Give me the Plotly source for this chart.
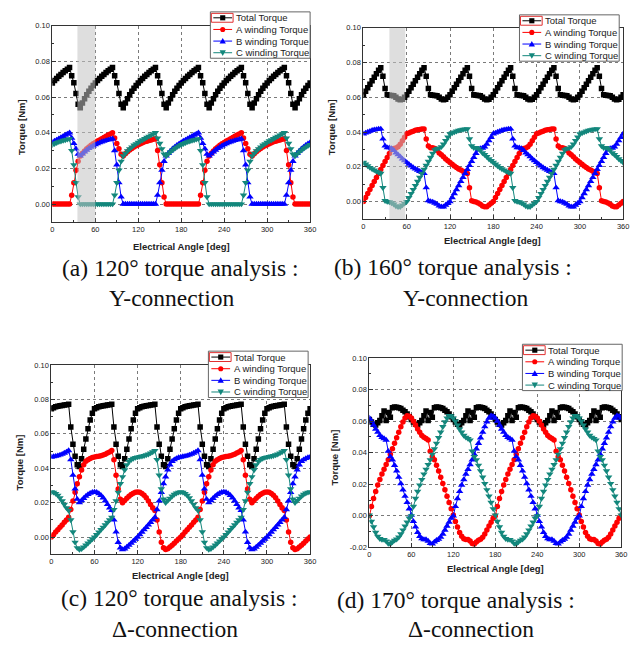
import plotly.graph_objects as go

W, H = 642, 654

# ---------------- data ----------------
angle_deg = list(range(0, 361, 3))

x_tick_vals = [0, 60, 120, 180, 240, 300, 360]
x_tick_text = ["0", "60", "120", "180", "240", "300", "360"]
y_tick_vals_pos = [0.00, 0.02, 0.04, 0.06, 0.08, 0.10]
y_tick_text_pos = ["0.00", "0.02", "0.04", "0.06", "0.08", "0.10"]
y_tick_vals_neg = [-0.02, 0.00, 0.02, 0.04, 0.06, 0.08, 0.10]
y_tick_text_neg = ["-0.02", "0.00", "0.02", "0.04", "0.06", "0.08", "0.10"]

series_names = ["Total Torque", "A winding Torque", "B winding Torque", "C winding Torque"]

# (a) 120 deg, Y-connection
a_total = [
    0.0679, 0.0693, 0.0704, 0.0716, 0.0727, 0.0737, 0.0747, 0.0756, 0.0766, 0.072, 0.068, 0.062, 0.056, 0.054, 0.0567, 0.0591, 0.0613, 0.0632, 0.065, 0.0665,
    0.0679, 0.0693, 0.0704, 0.0716, 0.0727, 0.0737, 0.0747, 0.0756, 0.0766, 0.072, 0.068, 0.062, 0.056, 0.054, 0.0567, 0.0591, 0.0613, 0.0632, 0.065, 0.0665,
    0.0679, 0.0693, 0.0704, 0.0716, 0.0727, 0.0737, 0.0747, 0.0756, 0.0766, 0.072, 0.068, 0.062, 0.056, 0.054, 0.0567, 0.0591, 0.0613, 0.0632, 0.065, 0.0665,
    0.0679, 0.0693, 0.0704, 0.0716, 0.0727, 0.0737, 0.0747, 0.0756, 0.0766, 0.072, 0.068, 0.062, 0.056, 0.054, 0.0567, 0.0591, 0.0613, 0.0632, 0.065, 0.0665,
    0.0679, 0.0693, 0.0704, 0.0716, 0.0727, 0.0737, 0.0747, 0.0756, 0.0766, 0.072, 0.068, 0.062, 0.056, 0.054, 0.0567, 0.0591, 0.0613, 0.0632, 0.065, 0.0665,
    0.0679, 0.0693, 0.0704, 0.0716, 0.0727, 0.0737, 0.0747, 0.0756, 0.0766, 0.072, 0.068, 0.062, 0.056, 0.054, 0.0567, 0.0591, 0.0613, 0.0632, 0.065, 0.0665,
    0.0679]
a_A = [
    0, 0, 0, 0, 0, 0, 0, 0, 0, 0.005, 0.012, 0.019, 0.024, 0.027, 0.0285, 0.0298, 0.031, 0.032, 0.033, 0.0338,
    0.0346, 0.0354, 0.036, 0.0367, 0.0374, 0.038, 0.0387, 0.0393, 0.04, 0.037, 0.034, 0.031, 0.028, 0.027, 0.0282, 0.0293, 0.0303, 0.0312, 0.032, 0.0327,
    0.0333, 0.0339, 0.0344, 0.0349, 0.0353, 0.0357, 0.036, 0.0363, 0.0366, 0.03, 0.022, 0.012, 0.004, 0, 0, 0, 0, 0, 0, 0,
    0, 0, 0, 0, 0, 0, 0, 0, 0, 0.005, 0.012, 0.019, 0.024, 0.027, 0.0285, 0.0298, 0.031, 0.032, 0.033, 0.0338,
    0.0346, 0.0354, 0.036, 0.0367, 0.0374, 0.038, 0.0387, 0.0393, 0.04, 0.037, 0.034, 0.031, 0.028, 0.027, 0.0282, 0.0293, 0.0303, 0.0312, 0.032, 0.0327,
    0.0333, 0.0339, 0.0344, 0.0349, 0.0353, 0.0357, 0.036, 0.0363, 0.0366, 0.03, 0.022, 0.012, 0.004, 0, 0, 0, 0, 0, 0, 0,
    0]
a_B = [
    0.0346, 0.0354, 0.036, 0.0367, 0.0374, 0.038, 0.0387, 0.0393, 0.04, 0.037, 0.034, 0.031, 0.028, 0.027, 0.0282, 0.0293, 0.0303, 0.0312, 0.032, 0.0327,
    0.0333, 0.0339, 0.0344, 0.0349, 0.0353, 0.0357, 0.036, 0.0363, 0.0366, 0.03, 0.022, 0.012, 0.004, 0, 0, 0, 0, 0, 0, 0,
    0, 0, 0, 0, 0, 0, 0, 0, 0, 0.005, 0.012, 0.019, 0.024, 0.027, 0.0285, 0.0298, 0.031, 0.032, 0.033, 0.0338,
    0.0346, 0.0354, 0.036, 0.0367, 0.0374, 0.038, 0.0387, 0.0393, 0.04, 0.037, 0.034, 0.031, 0.028, 0.027, 0.0282, 0.0293, 0.0303, 0.0312, 0.032, 0.0327,
    0.0333, 0.0339, 0.0344, 0.0349, 0.0353, 0.0357, 0.036, 0.0363, 0.0366, 0.03, 0.022, 0.012, 0.004, 0, 0, 0, 0, 0, 0, 0,
    0, 0, 0, 0, 0, 0, 0, 0, 0, 0.005, 0.012, 0.019, 0.024, 0.027, 0.0285, 0.0298, 0.031, 0.032, 0.033, 0.0338,
    0.0346]
a_C = [
    0.0333, 0.0339, 0.0344, 0.0349, 0.0353, 0.0357, 0.036, 0.0363, 0.0366, 0.03, 0.022, 0.012, 0.004, 0, 0, 0, 0, 0, 0, 0,
    0, 0, 0, 0, 0, 0, 0, 0, 0, 0.005, 0.012, 0.019, 0.024, 0.027, 0.0285, 0.0298, 0.031, 0.032, 0.033, 0.0338,
    0.0346, 0.0354, 0.036, 0.0367, 0.0374, 0.038, 0.0387, 0.0393, 0.04, 0.037, 0.034, 0.031, 0.028, 0.027, 0.0282, 0.0293, 0.0303, 0.0312, 0.032, 0.0327,
    0.0333, 0.0339, 0.0344, 0.0349, 0.0353, 0.0357, 0.036, 0.0363, 0.0366, 0.03, 0.022, 0.012, 0.004, 0, 0, 0, 0, 0, 0, 0,
    0, 0, 0, 0, 0, 0, 0, 0, 0, 0.005, 0.012, 0.019, 0.024, 0.027, 0.0285, 0.0298, 0.031, 0.032, 0.033, 0.0338,
    0.0346, 0.0354, 0.036, 0.0367, 0.0374, 0.038, 0.0387, 0.0393, 0.04, 0.037, 0.034, 0.031, 0.028, 0.027, 0.0282, 0.0293, 0.0303, 0.0312, 0.032, 0.0327,
    0.0333]

# (b) 160 deg, Y-connection
b_total = [
    0.0615, 0.0635, 0.0655, 0.0675, 0.0695, 0.0715, 0.0735, 0.0755, 0.077, 0.072, 0.065, 0.0615, 0.0612, 0.061, 0.0608, 0.06, 0.059, 0.0585, 0.0588, 0.06,
    0.0615, 0.0635, 0.0655, 0.0675, 0.0695, 0.0715, 0.0735, 0.0755, 0.077, 0.072, 0.065, 0.0615, 0.0612, 0.061, 0.0608, 0.06, 0.059, 0.0585, 0.0588, 0.06,
    0.0615, 0.0635, 0.0655, 0.0675, 0.0695, 0.0715, 0.0735, 0.0755, 0.077, 0.072, 0.065, 0.0615, 0.0612, 0.061, 0.0608, 0.06, 0.059, 0.0585, 0.0588, 0.06,
    0.0615, 0.0635, 0.0655, 0.0675, 0.0695, 0.0715, 0.0735, 0.0755, 0.077, 0.072, 0.065, 0.0615, 0.0612, 0.061, 0.0608, 0.06, 0.059, 0.0585, 0.0588, 0.06,
    0.0615, 0.0635, 0.0655, 0.0675, 0.0695, 0.0715, 0.0735, 0.0755, 0.077, 0.072, 0.065, 0.0615, 0.0612, 0.061, 0.0608, 0.06, 0.059, 0.0585, 0.0588, 0.06,
    0.0615, 0.0635, 0.0655, 0.0675, 0.0695, 0.0715, 0.0735, 0.0755, 0.077, 0.072, 0.065, 0.0615, 0.0612, 0.061, 0.0608, 0.06, 0.059, 0.0585, 0.0588, 0.06,
    0.0615]
b_A = [
    0, 0.0023, 0.0046, 0.0069, 0.0092, 0.0116, 0.0139, 0.0162, 0.0185, 0.0208, 0.0231, 0.0254, 0.0277, 0.0298, 0.0305, 0.0308, 0.0315, 0.033, 0.035, 0.037,
    0.039, 0.0395, 0.04, 0.0405, 0.041, 0.0413, 0.0415, 0.0417, 0.0418, 0.036, 0.032, 0.031, 0.031, 0.0305, 0.0295, 0.028, 0.027, 0.0258, 0.0245, 0.0235,
    0.0225, 0.0215, 0.0205, 0.0196, 0.0188, 0.0181, 0.0174, 0.0168, 0.0162, 0.008, 0.0005, 0, -0.0002, -0.0008, -0.0015, -0.0025, -0.003, -0.003, -0.002, -0.001,
    0, 0.0023, 0.0046, 0.0069, 0.0092, 0.0116, 0.0139, 0.0162, 0.0185, 0.0208, 0.0231, 0.0254, 0.0277, 0.0298, 0.0305, 0.0308, 0.0315, 0.033, 0.035, 0.037,
    0.039, 0.0395, 0.04, 0.0405, 0.041, 0.0413, 0.0415, 0.0417, 0.0418, 0.036, 0.032, 0.031, 0.031, 0.0305, 0.0295, 0.028, 0.027, 0.0258, 0.0245, 0.0235,
    0.0225, 0.0215, 0.0205, 0.0196, 0.0188, 0.0181, 0.0174, 0.0168, 0.0162, 0.008, 0.0005, 0, -0.0002, -0.0008, -0.0015, -0.0025, -0.003, -0.003, -0.002, -0.001,
    0]
b_B = [
    0.039, 0.0395, 0.04, 0.0405, 0.041, 0.0413, 0.0415, 0.0417, 0.0418, 0.036, 0.032, 0.031, 0.031, 0.0305, 0.0295, 0.028, 0.027, 0.0258, 0.0245, 0.0235,
    0.0225, 0.0215, 0.0205, 0.0196, 0.0188, 0.0181, 0.0174, 0.0168, 0.0162, 0.008, 0.0005, 0, -0.0002, -0.0008, -0.0015, -0.0025, -0.003, -0.003, -0.002, -0.001,
    0, 0.0023, 0.0046, 0.0069, 0.0092, 0.0116, 0.0139, 0.0162, 0.0185, 0.0208, 0.0231, 0.0254, 0.0277, 0.0298, 0.0305, 0.0308, 0.0315, 0.033, 0.035, 0.037,
    0.039, 0.0395, 0.04, 0.0405, 0.041, 0.0413, 0.0415, 0.0417, 0.0418, 0.036, 0.032, 0.031, 0.031, 0.0305, 0.0295, 0.028, 0.027, 0.0258, 0.0245, 0.0235,
    0.0225, 0.0215, 0.0205, 0.0196, 0.0188, 0.0181, 0.0174, 0.0168, 0.0162, 0.008, 0.0005, 0, -0.0002, -0.0008, -0.0015, -0.0025, -0.003, -0.003, -0.002, -0.001,
    0, 0.0023, 0.0046, 0.0069, 0.0092, 0.0116, 0.0139, 0.0162, 0.0185, 0.0208, 0.0231, 0.0254, 0.0277, 0.0298, 0.0305, 0.0308, 0.0315, 0.033, 0.035, 0.037,
    0.039]
b_C = [
    0.0225, 0.0215, 0.0205, 0.0196, 0.0188, 0.0181, 0.0174, 0.0168, 0.0162, 0.008, 0.0005, 0, -0.0002, -0.0008, -0.0015, -0.0025, -0.003, -0.003, -0.002, -0.001,
    0, 0.0023, 0.0046, 0.0069, 0.0092, 0.0116, 0.0139, 0.0162, 0.0185, 0.0208, 0.0231, 0.0254, 0.0277, 0.0298, 0.0305, 0.0308, 0.0315, 0.033, 0.035, 0.037,
    0.039, 0.0395, 0.04, 0.0405, 0.041, 0.0413, 0.0415, 0.0417, 0.0418, 0.036, 0.032, 0.031, 0.031, 0.0305, 0.0295, 0.028, 0.027, 0.0258, 0.0245, 0.0235,
    0.0225, 0.0215, 0.0205, 0.0196, 0.0188, 0.0181, 0.0174, 0.0168, 0.0162, 0.008, 0.0005, 0, -0.0002, -0.0008, -0.0015, -0.0025, -0.003, -0.003, -0.002, -0.001,
    0, 0.0023, 0.0046, 0.0069, 0.0092, 0.0116, 0.0139, 0.0162, 0.0185, 0.0208, 0.0231, 0.0254, 0.0277, 0.0298, 0.0305, 0.0308, 0.0315, 0.033, 0.035, 0.037,
    0.039, 0.0395, 0.04, 0.0405, 0.041, 0.0413, 0.0415, 0.0417, 0.0418, 0.036, 0.032, 0.031, 0.031, 0.0305, 0.0295, 0.028, 0.027, 0.0258, 0.0245, 0.0235,
    0.0225]

# (c) 120 deg, Delta-connection
c_total = [
    0.0745, 0.0752, 0.0757, 0.076, 0.0763, 0.0765, 0.0767, 0.0769, 0.0772, 0.064, 0.054, 0.047, 0.042, 0.041, 0.0455, 0.051, 0.057, 0.063, 0.068, 0.072,
    0.0745, 0.0752, 0.0757, 0.076, 0.0763, 0.0765, 0.0767, 0.0769, 0.0772, 0.064, 0.054, 0.047, 0.042, 0.041, 0.0455, 0.051, 0.057, 0.063, 0.068, 0.072,
    0.0745, 0.0752, 0.0757, 0.076, 0.0763, 0.0765, 0.0767, 0.0769, 0.0772, 0.064, 0.054, 0.047, 0.042, 0.041, 0.0455, 0.051, 0.057, 0.063, 0.068, 0.072,
    0.0745, 0.0752, 0.0757, 0.076, 0.0763, 0.0765, 0.0767, 0.0769, 0.0772, 0.064, 0.054, 0.047, 0.042, 0.041, 0.0455, 0.051, 0.057, 0.063, 0.068, 0.072,
    0.0745, 0.0752, 0.0757, 0.076, 0.0763, 0.0765, 0.0767, 0.0769, 0.0772, 0.064, 0.054, 0.047, 0.042, 0.041, 0.0455, 0.051, 0.057, 0.063, 0.068, 0.072,
    0.0745, 0.0752, 0.0757, 0.076, 0.0763, 0.0765, 0.0767, 0.0769, 0.0772, 0.064, 0.054, 0.047, 0.042, 0.041, 0.0455, 0.051, 0.057, 0.063, 0.068, 0.072,
    0.0745]
c_A = [
    0, 0.0014, 0.0029, 0.0043, 0.0057, 0.0071, 0.0086, 0.01, 0.0115, 0.016, 0.021, 0.026, 0.031, 0.035, 0.039, 0.042, 0.044, 0.045, 0.0457, 0.0462,
    0.0465, 0.0468, 0.047, 0.0473, 0.0477, 0.0482, 0.0488, 0.0495, 0.0503, 0.045, 0.036, 0.028, 0.022, 0.02, 0.0212, 0.0225, 0.0238, 0.0248, 0.0255, 0.026,
    0.0262, 0.026, 0.0253, 0.0243, 0.0228, 0.021, 0.019, 0.017, 0.0155, 0.01, 0.003, -0.003, -0.0062, -0.0072, -0.0068, -0.0058, -0.0047, -0.0035, -0.0023, -0.0011,
    0, 0.0014, 0.0029, 0.0043, 0.0057, 0.0071, 0.0086, 0.01, 0.0115, 0.016, 0.021, 0.026, 0.031, 0.035, 0.039, 0.042, 0.044, 0.045, 0.0457, 0.0462,
    0.0465, 0.0468, 0.047, 0.0473, 0.0477, 0.0482, 0.0488, 0.0495, 0.0503, 0.045, 0.036, 0.028, 0.022, 0.02, 0.0212, 0.0225, 0.0238, 0.0248, 0.0255, 0.026,
    0.0262, 0.026, 0.0253, 0.0243, 0.0228, 0.021, 0.019, 0.017, 0.0155, 0.01, 0.003, -0.003, -0.0062, -0.0072, -0.0068, -0.0058, -0.0047, -0.0035, -0.0023, -0.0011,
    0]
c_B = [
    0.0465, 0.0468, 0.047, 0.0473, 0.0477, 0.0482, 0.0488, 0.0495, 0.0503, 0.045, 0.036, 0.028, 0.022, 0.02, 0.0212, 0.0225, 0.0238, 0.0248, 0.0255, 0.026,
    0.0262, 0.026, 0.0253, 0.0243, 0.0228, 0.021, 0.019, 0.017, 0.0155, 0.01, 0.003, -0.003, -0.0062, -0.0072, -0.0068, -0.0058, -0.0047, -0.0035, -0.0023, -0.0011,
    0, 0.0014, 0.0029, 0.0043, 0.0057, 0.0071, 0.0086, 0.01, 0.0115, 0.016, 0.021, 0.026, 0.031, 0.035, 0.039, 0.042, 0.044, 0.045, 0.0457, 0.0462,
    0.0465, 0.0468, 0.047, 0.0473, 0.0477, 0.0482, 0.0488, 0.0495, 0.0503, 0.045, 0.036, 0.028, 0.022, 0.02, 0.0212, 0.0225, 0.0238, 0.0248, 0.0255, 0.026,
    0.0262, 0.026, 0.0253, 0.0243, 0.0228, 0.021, 0.019, 0.017, 0.0155, 0.01, 0.003, -0.003, -0.0062, -0.0072, -0.0068, -0.0058, -0.0047, -0.0035, -0.0023, -0.0011,
    0, 0.0014, 0.0029, 0.0043, 0.0057, 0.0071, 0.0086, 0.01, 0.0115, 0.016, 0.021, 0.026, 0.031, 0.035, 0.039, 0.042, 0.044, 0.045, 0.0457, 0.0462,
    0.0465]
c_C = [
    0.0262, 0.026, 0.0253, 0.0243, 0.0228, 0.021, 0.019, 0.017, 0.0155, 0.01, 0.003, -0.003, -0.0062, -0.0072, -0.0068, -0.0058, -0.0047, -0.0035, -0.0023, -0.0011,
    0, 0.0014, 0.0029, 0.0043, 0.0057, 0.0071, 0.0086, 0.01, 0.0115, 0.016, 0.021, 0.026, 0.031, 0.035, 0.039, 0.042, 0.044, 0.045, 0.0457, 0.0462,
    0.0465, 0.0468, 0.047, 0.0473, 0.0477, 0.0482, 0.0488, 0.0495, 0.0503, 0.045, 0.036, 0.028, 0.022, 0.02, 0.0212, 0.0225, 0.0238, 0.0248, 0.0255, 0.026,
    0.0262, 0.026, 0.0253, 0.0243, 0.0228, 0.021, 0.019, 0.017, 0.0155, 0.01, 0.003, -0.003, -0.0062, -0.0072, -0.0068, -0.0058, -0.0047, -0.0035, -0.0023, -0.0011,
    0, 0.0014, 0.0029, 0.0043, 0.0057, 0.0071, 0.0086, 0.01, 0.0115, 0.016, 0.021, 0.026, 0.031, 0.035, 0.039, 0.042, 0.044, 0.045, 0.0457, 0.0462,
    0.0465, 0.0468, 0.047, 0.0473, 0.0477, 0.0482, 0.0488, 0.0495, 0.0503, 0.045, 0.036, 0.028, 0.022, 0.02, 0.0212, 0.0225, 0.0238, 0.0248, 0.0255, 0.026,
    0.0262]

# (d) 170 deg, Delta-connection
d_total = [
    0.061, 0.0595, 0.058, 0.0575, 0.059, 0.0605, 0.0635, 0.0665, 0.0605, 0.0655, 0.0625, 0.0685, 0.069, 0.0688, 0.0685, 0.068, 0.067, 0.066, 0.0645, 0.0628,
    0.061, 0.0595, 0.058, 0.0575, 0.059, 0.0605, 0.0635, 0.0665, 0.0605, 0.0655, 0.0625, 0.0685, 0.069, 0.0688, 0.0685, 0.068, 0.067, 0.066, 0.0645, 0.0628,
    0.061, 0.0595, 0.058, 0.0575, 0.059, 0.0605, 0.0635, 0.0665, 0.0605, 0.0655, 0.0625, 0.0685, 0.069, 0.0688, 0.0685, 0.068, 0.067, 0.066, 0.0645, 0.0628,
    0.061, 0.0595, 0.058, 0.0575, 0.059, 0.0605, 0.0635, 0.0665, 0.0605, 0.0655, 0.0625, 0.0685, 0.069, 0.0688, 0.0685, 0.068, 0.067, 0.066, 0.0645, 0.0628,
    0.061, 0.0595, 0.058, 0.0575, 0.059, 0.0605, 0.0635, 0.0665, 0.0605, 0.0655, 0.0625, 0.0685, 0.069, 0.0688, 0.0685, 0.068, 0.067, 0.066, 0.0645, 0.0628,
    0.061, 0.0595, 0.058, 0.0575, 0.059, 0.0605, 0.0635, 0.0665, 0.0605, 0.0655, 0.0625, 0.0685, 0.069, 0.0688, 0.0685, 0.068, 0.067, 0.066, 0.0645, 0.0628,
    0.061]
d_A = [
    0, 0.006, 0.011, 0.0155, 0.0195, 0.023, 0.0265, 0.0295, 0.0325, 0.0355, 0.039, 0.0425, 0.046, 0.0495, 0.053, 0.0565, 0.0595, 0.062, 0.0635, 0.0632,
    0.062, 0.06, 0.0575, 0.055, 0.053, 0.051, 0.0498, 0.049, 0.048, 0.041, 0.0375, 0.0355, 0.032, 0.0285, 0.0245, 0.0205, 0.0165, 0.0125, 0.0085, 0.0045,
    0.0005, -0.0035, -0.007, -0.0105, -0.013, -0.0145, -0.015, -0.015, -0.016, -0.0175, -0.0178, -0.0165, -0.0155, -0.0148, -0.0135, -0.0115, -0.009, -0.0065, -0.004, -0.0015,
    0, 0.006, 0.011, 0.0155, 0.0195, 0.023, 0.0265, 0.0295, 0.0325, 0.0355, 0.039, 0.0425, 0.046, 0.0495, 0.053, 0.0565, 0.0595, 0.062, 0.0635, 0.0632,
    0.062, 0.06, 0.0575, 0.055, 0.053, 0.051, 0.0498, 0.049, 0.048, 0.041, 0.0375, 0.0355, 0.032, 0.0285, 0.0245, 0.0205, 0.0165, 0.0125, 0.0085, 0.0045,
    0.0005, -0.0035, -0.007, -0.0105, -0.013, -0.0145, -0.015, -0.015, -0.016, -0.0175, -0.0178, -0.0165, -0.0155, -0.0148, -0.0135, -0.0115, -0.009, -0.0065, -0.004, -0.0015,
    0]
d_B = [
    0.062, 0.06, 0.0575, 0.055, 0.053, 0.051, 0.0498, 0.049, 0.048, 0.041, 0.0375, 0.0355, 0.032, 0.0285, 0.0245, 0.0205, 0.0165, 0.0125, 0.0085, 0.0045,
    0.0005, -0.0035, -0.007, -0.0105, -0.013, -0.0145, -0.015, -0.015, -0.016, -0.0175, -0.0178, -0.0165, -0.0155, -0.0148, -0.0135, -0.0115, -0.009, -0.0065, -0.004, -0.0015,
    0, 0.006, 0.011, 0.0155, 0.0195, 0.023, 0.0265, 0.0295, 0.0325, 0.0355, 0.039, 0.0425, 0.046, 0.0495, 0.053, 0.0565, 0.0595, 0.062, 0.0635, 0.0632,
    0.062, 0.06, 0.0575, 0.055, 0.053, 0.051, 0.0498, 0.049, 0.048, 0.041, 0.0375, 0.0355, 0.032, 0.0285, 0.0245, 0.0205, 0.0165, 0.0125, 0.0085, 0.0045,
    0.0005, -0.0035, -0.007, -0.0105, -0.013, -0.0145, -0.015, -0.015, -0.016, -0.0175, -0.0178, -0.0165, -0.0155, -0.0148, -0.0135, -0.0115, -0.009, -0.0065, -0.004, -0.0015,
    0, 0.006, 0.011, 0.0155, 0.0195, 0.023, 0.0265, 0.0295, 0.0325, 0.0355, 0.039, 0.0425, 0.046, 0.0495, 0.053, 0.0565, 0.0595, 0.062, 0.0635, 0.0632,
    0.062]
d_C = [
    0.0005, -0.0035, -0.007, -0.0105, -0.013, -0.0145, -0.015, -0.015, -0.016, -0.0175, -0.0178, -0.0165, -0.0155, -0.0148, -0.0135, -0.0115, -0.009, -0.0065, -0.004, -0.0015,
    0, 0.006, 0.011, 0.0155, 0.0195, 0.023, 0.0265, 0.0295, 0.0325, 0.0355, 0.039, 0.0425, 0.046, 0.0495, 0.053, 0.0565, 0.0595, 0.062, 0.0635, 0.0632,
    0.062, 0.06, 0.0575, 0.055, 0.053, 0.051, 0.0498, 0.049, 0.048, 0.041, 0.0375, 0.0355, 0.032, 0.0285, 0.0245, 0.0205, 0.0165, 0.0125, 0.0085, 0.0045,
    0.0005, -0.0035, -0.007, -0.0105, -0.013, -0.0145, -0.015, -0.015, -0.016, -0.0175, -0.0178, -0.0165, -0.0155, -0.0148, -0.0135, -0.0115, -0.009, -0.0065, -0.004, -0.0015,
    0, 0.006, 0.011, 0.0155, 0.0195, 0.023, 0.0265, 0.0295, 0.0325, 0.0355, 0.039, 0.0425, 0.046, 0.0495, 0.053, 0.0565, 0.0595, 0.062, 0.0635, 0.0632,
    0.062, 0.06, 0.0575, 0.055, 0.053, 0.051, 0.0498, 0.049, 0.048, 0.041, 0.0375, 0.0355, 0.032, 0.0285, 0.0245, 0.0205, 0.0165, 0.0125, 0.0085, 0.0045,
    0.0005]

captions = [
    ["(a) 120° torque analysis :", "Y-connection"],
    ["(b) 160° torque analysis :", "Y-connection"],
    ["(c) 120° torque analysis :", "Δ-connection"],
    ["(d) 170° torque analysis :", "Δ-connection"],
]
shaded_ranges = [(35, 60), (36, 58), None, None]

# ---------------- styling / layout ----------------
colors = ["#000000", "#ff0000", "#0000ff", "#13877c"]
symbols = ["square", "circle", "triangle-up", "triangle-down"]
msizes = [5.5, 5.5, 6.5, 6.5]
SANS = "Liberation Sans, Arial, sans-serif"
SERIF = "Liberation Serif, Times New Roman, serif"

# pixel boxes: left, top, right, bottom of each plot area
boxes = [(51, 22, 312, 221), (366, 24, 629, 218), (50, 366, 312, 558), (372, 359, 627, 551)]
yranges = [(-0.01, 0.10), (-0.01, 0.10), (-0.01, 0.10), (-0.02, 0.10)]
legend_pos = [(211, 8), (524, 11), (209, 352), (527, 345)]
ytitle_pos = [(20, 125), (333, 125), (18, 465), (337, 460)]
xtitle_pos = [(182, 246), (497, 240), (181, 579), (500, 572)]
caption_pos = [((181, 268), (172, 298)), ((457, 267), (470, 298)),
               ((180, 602), (175, 634)), ((460, 604), (475, 634))]

data = [
    (a_total, a_A, a_B, a_C),
    (b_total, b_A, b_B, b_C),
    (c_total, c_A, c_B, c_C),
    (d_total, d_A, d_B, d_C),
]


def px(x):
    return x / W


def py(y):
    return 1 - y / H


fig = go.Figure()
shapes = []
annotations = []
layout_axes = {}

for i in range(4):
    n = "" if i == 0 else str(i + 1)
    xa, ya = "x" + n, "y" + n
    for s in range(4):
        fig.add_trace(go.Scatter(
            x=angle_deg, y=data[i][s], mode="lines+markers", name=series_names[s],
            xaxis=xa, yaxis=ya, showlegend=False,
            line=dict(color=colors[s], width=1),
            marker=dict(symbol=symbols[s], size=msizes[s], color=colors[s], line=dict(width=0)),
        ))
    L, T, R, B = boxes[i]
    yv, yt = (y_tick_vals_neg, y_tick_text_neg) if i == 3 else (y_tick_vals_pos, y_tick_text_pos)
    common = dict(showline=True, linecolor="#333", linewidth=1, mirror=True,
                  ticks="inside", ticklen=4, tickcolor="#333", tickwidth=1,
                  showgrid=True, gridcolor="#7a7a7a", griddash="dot", gridwidth=1,
                  zeroline=False, tickfont=dict(family=SANS, size=7.5, color="#222"))
    layout_axes["xaxis" + n] = dict(
        common, domain=[px(L), px(R)], anchor=ya, range=[0, 360],
        tickmode="array", tickvals=x_tick_vals, ticktext=x_tick_text,
        minor=dict(dtick=30, tick0=0, ticks="inside", ticklen=2, tickcolor="#333", showgrid=False),
    )
    layout_axes["yaxis" + n] = dict(
        common, domain=[py(B), py(T)], anchor=xa, range=list(yranges[i]),
        tickmode="array", tickvals=yv, ticktext=yt,
        minor=dict(dtick=0.01, tick0=0, ticks="inside", ticklen=2, tickcolor="#333", showgrid=False),
    )
    # grey highlighted interval
    if shaded_ranges[i] is not None:
        x0, x1 = shaded_ranges[i]
        shapes.append(dict(type="rect", xref=xa, yref=ya + " domain", x0=x0, x1=x1, y0=0, y1=1,
                           fillcolor="rgba(195,195,195,0.55)", line=dict(width=0), layer="above"))
    # axis titles
    tx, ty = ytitle_pos[i]
    annotations.append(dict(text="<b>Torque [Nm]</b>", x=px(tx), y=py(ty), xref="paper", yref="paper",
                            showarrow=False, textangle=-90, xanchor="center", yanchor="middle",
                            font=dict(family=SANS, size=9.5, color="#222")))
    tx, ty = xtitle_pos[i]
    annotations.append(dict(text="<b>Electrical Angle [deg]</b>", x=px(tx), y=py(ty), xref="paper", yref="paper",
                            showarrow=False, xanchor="center", yanchor="middle",
                            font=dict(family=SANS, size=9.5, color="#222")))
    # captions
    for line_txt, (cx, cy) in zip(captions[i], caption_pos[i]):
        annotations.append(dict(text=line_txt, x=px(cx), y=py(cy), xref="paper", yref="paper",
                                showarrow=False, xanchor="center", yanchor="middle",
                                font=dict(family=SERIF, size=23.5, color="#111")))
    # legend box (drawn manually)
    LX, LY = legend_pos[i]
    LW, LH = 101, 47
    shapes.append(dict(type="rect", xref="paper", yref="paper", x0=px(LX), x1=px(LX + LW),
                       y0=py(LY + LH), y1=py(LY), fillcolor="white",
                       line=dict(color="#666", width=1), layer="above"))
    for k in range(4):
        ry = LY + 6 + 11.8 * k
        shapes.append(dict(type="line", xref="paper", yref="paper", x0=px(LX + 3), x1=px(LX + 22),
                           y0=py(ry), y1=py(ry), line=dict(color=colors[k], width=1), layer="above"))
        cx = LX + 12.5
        r = 2.6
        if k == 0:
            shapes.append(dict(type="rect", xref="paper", yref="paper", x0=px(cx - r), x1=px(cx + r),
                               y0=py(ry + r), y1=py(ry - r), fillcolor=colors[k], line=dict(width=0), layer="above"))
        elif k == 1:
            shapes.append(dict(type="circle", xref="paper", yref="paper", x0=px(cx - r), x1=px(cx + r),
                               y0=py(ry + r), y1=py(ry - r), fillcolor=colors[k], line=dict(width=0), layer="above"))
        else:
            s = 3.2
            if k == 2:
                pts = [(cx - s, ry + s * 0.8), (cx + s, ry + s * 0.8), (cx, ry - s)]
            else:
                pts = [(cx - s, ry - s * 0.8), (cx + s, ry - s * 0.8), (cx, ry + s)]
            path = "M " + " L ".join(f"{px(a):.5f},{py(b):.5f}" for a, b in pts) + " Z"
            shapes.append(dict(type="path", xref="paper", yref="paper", path=path,
                               fillcolor=colors[k], line=dict(width=0), layer="above"))
        annotations.append(dict(text=series_names[k], x=px(LX + 24), y=py(ry), xref="paper", yref="paper",
                                showarrow=False, xanchor="left", yanchor="middle",
                                font=dict(family=SANS, size=9.5, color="#222")))
    # red selection frame around the first legend symbol
    shapes.append(dict(type="rect", xref="paper", yref="paper", x0=px(LX + 1), x1=px(LX + 23),
                       y0=py(LY + 10.5), y1=py(LY + 1.5), fillcolor="rgba(0,0,0,0)",
                       line=dict(color="#e03030", width=1), layer="above"))

fig.update_layout(
    width=W, height=H, margin=dict(l=0, r=0, t=0, b=0),
    paper_bgcolor="white", plot_bgcolor="white",
    shapes=shapes, annotations=annotations, showlegend=False,
    **layout_axes,
)

fig.write_html("out.html")
